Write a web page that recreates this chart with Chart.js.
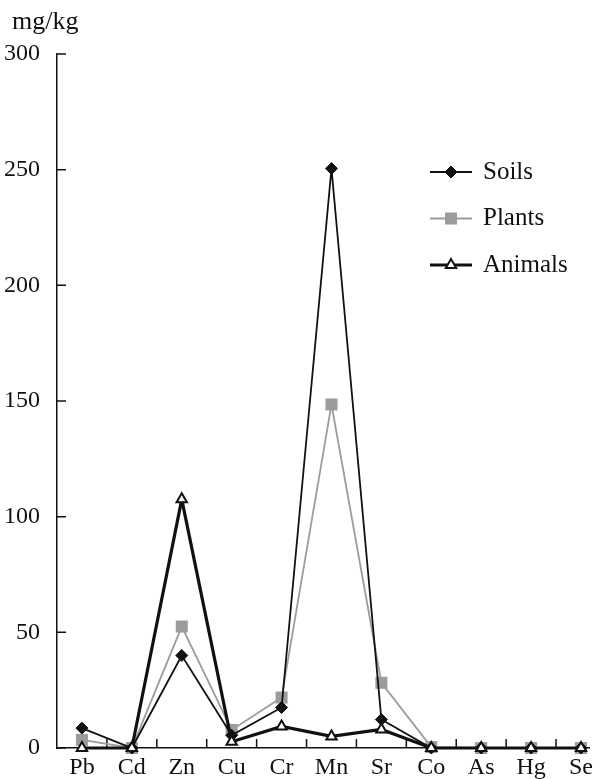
<!DOCTYPE html>
<html>
<head>
<meta charset="utf-8">
<script src="https://cdn.jsdelivr.net/npm/chart.js@4.4.0/dist/chart.umd.min.js"></script>
<style>
  body { margin: 0; background: #fff; }
  canvas { display: block; }
</style>
</head>
<body>
<canvas id="chart" width="605" height="779"></canvas>
<script>
// element concentrations, mg/kg
const elements = ['Pb', 'Cd', 'Zn', 'Cu', 'Cr', 'Mn', 'Sr', 'Co', 'As', 'Hg', 'Se'];
const soils = [8.6, 0, 40, 5.5, 17.5, 250.5, 12.3, 0, 0, 0, 0];
const plants = [3.5, 0, 52.5, 7.8, 21.8, 148.5, 28.2, 0.4, 0, 0, 0];
const animals = [0, 0, 107.5, 2.7, 9.3, 5, 8, 0, 0, 0, 0];
const yTicks = [0, 50, 100, 150, 200, 250, 300];
const yUnit = 'mg/kg';

const FONT = '"Liberation Serif", "DejaVu Serif", serif';
const INK = '#111';

const toPoints = arr => arr.map((v, i) => ({ x: i, y: v }));

// tick marks point into the plot, x ticks sit between categories
const insideTicks = {
  id: 'insideTicks',
  beforeDatasetsDraw(chart) {
    const { ctx, chartArea, scales } = chart;
    ctx.save();
    ctx.strokeStyle = INK;
    ctx.lineWidth = 1.5;
    ctx.beginPath();
    yTicks.forEach(v => {
      const y = scales.y.getPixelForValue(v);
      ctx.moveTo(chartArea.left, y);
      ctx.lineTo(chartArea.left + 9, y);
    });
    for (let i = 0; i < elements.length - 1; i++) {
      const x = scales.x.getPixelForValue(i + 0.5);
      ctx.moveTo(x, chartArea.bottom);
      ctx.lineTo(x, chartArea.bottom - 9);
    }
    ctx.stroke();
    ctx.restore();
  }
};

// unit label and the legend box on the right
const extras = {
  id: 'extras',
  afterDraw(chart) {
    const { ctx } = chart;
    ctx.save();
    ctx.fillStyle = INK;
    ctx.font = '26px ' + FONT;
    ctx.textBaseline = 'alphabetic';
    ctx.textAlign = 'left';
    ctx.fillText(yUnit, 12, 29);

    chart.data.datasets.forEach((ds, i) => {
      const y = 172 + i * 46.5;
      ctx.strokeStyle = ds.borderColor;
      ctx.lineWidth = ds.borderWidth;
      ctx.beginPath();
      ctx.moveTo(430, y);
      ctx.lineTo(472, y);
      ctx.stroke();
      ctx.fillStyle = ds.pointBackgroundColor;
      ctx.strokeStyle = ds.pointBorderColor;
      ctx.lineWidth = ds.pointBorderWidth;
      Chart.helpers.drawPoint(ctx, {
        pointStyle: ds.pointStyle,
        radius: ds.pointRadius,
        rotation: 0,
        borderWidth: ds.pointBorderWidth
      }, 451, y);
      ctx.fillStyle = INK;
      ctx.font = '25px ' + FONT;
      ctx.textBaseline = 'middle';
      ctx.fillText(ds.label, 483, y);
    });
    ctx.restore();
  }
};

new Chart(document.getElementById('chart'), {
  type: 'line',
  data: {
    datasets: [
      {
        label: 'Soils',
        data: toPoints(soils),
        borderColor: INK,
        borderWidth: 1.8,
        pointStyle: 'rectRot',
        pointRadius: 6,
        pointBackgroundColor: INK,
        pointBorderColor: INK,
        pointBorderWidth: 1,
        order: 1
      },
      {
        label: 'Plants',
        data: toPoints(plants),
        borderColor: '#9c9c9c',
        borderWidth: 1.8,
        pointStyle: 'rect',
        pointRadius: 8.5,
        pointBackgroundColor: '#9c9c9c',
        pointBorderColor: '#9c9c9c',
        pointBorderWidth: 0,
        order: 2
      },
      {
        label: 'Animals',
        data: toPoints(animals),
        borderColor: INK,
        borderWidth: 3.2,
        pointStyle: 'triangle',
        pointRadius: 6,
        pointBackgroundColor: '#fff',
        pointBorderColor: INK,
        pointBorderWidth: 2,
        order: 0
      }
    ]
  },
  options: {
    responsive: false,
    animation: false,
    clip: false,
    layout: { padding: { top: 54, right: 16, left: 0, bottom: 0 } },
    plugins: {
      legend: { display: false },
      tooltip: { enabled: false },
      title: { display: false }
    },
    scales: {
      x: {
        type: 'linear',
        min: -0.5,
        max: 10.16,
        afterBuildTicks: s => { s.ticks = elements.map((_, i) => ({ value: i })); },
        afterFit: s => { s.height = 31; },
        grid: { display: false },
        border: { display: true, color: INK, width: 1.5 },
        ticks: {
          callback: v => elements[v],
          autoSkip: false,
          maxRotation: 0,
          padding: -3,
          color: INK,
          font: { family: FONT, size: 24 }
        }
      },
      y: {
        min: 0,
        max: 300,
        afterBuildTicks: s => { s.ticks = yTicks.map(v => ({ value: v })); },
        afterFit: s => { s.width = 57; },
        grid: { display: false },
        border: { display: true, color: INK, width: 1.5 },
        ticks: {
          padding: 9,
          color: INK,
          font: { family: FONT, size: 24 }
        }
      }
    }
  },
  plugins: [insideTicks, extras]
});
</script>
</body>
</html>
